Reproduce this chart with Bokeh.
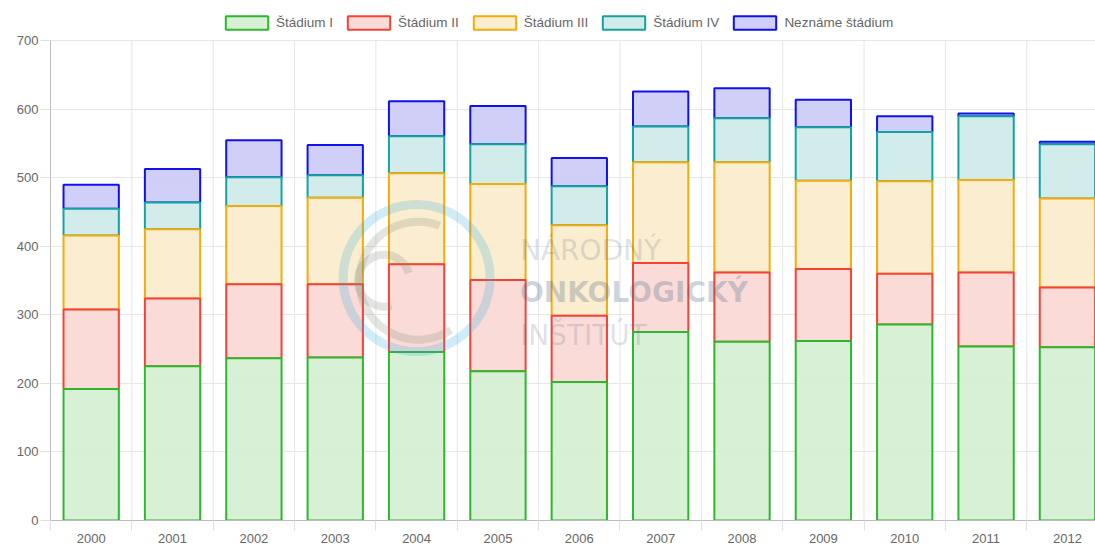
import numpy as np
from bokeh.plotting import figure
from bokeh.models import Range1d, FixedTicker, Legend, LegendItem, ColumnDataSource
from bokeh.core.properties import value
from bokeh.embed import file_html
from bokeh.resources import INLINE

# ---- data ----
years = ["2000", "2001", "2002", "2003", "2004", "2005", "2006",
         "2007", "2008", "2009", "2010", "2011", "2012"]
series_names = ["Štádium I", "Štádium II", "Štádium III", "Štádium IV", "Neznáme štádium"]
stadium_1 = [192, 225, 237, 238, 246, 218, 202, 275, 261, 262, 286, 254, 253]
stadium_2 = [116, 99, 108, 107, 128, 133, 97, 101, 101, 105, 74, 108, 87]
stadium_3 = [108, 101, 114, 126, 133, 140, 132, 147, 161, 129, 135, 135, 130]
stadium_4 = [39, 39, 42, 33, 54, 58, 57, 52, 64, 78, 72, 93, 79]
nezname = [35, 49, 54, 44, 51, 56, 41, 51, 44, 40, 23, 4, 4]
y_ticks = [0, 100, 200, 300, 400, 500, 600, 700]
Y_MAX = 700

# ---- styles ----
line_colors = ["#2eb82e", "#f44336", "#f3ab0e", "#14a3a0", "#1111ee"]
fill_colors = ["#d5efd3", "#fad8d4", "#fbebcb", "#cdeae9", "#cccbf7"]
FONT = "Liberation Sans"
TXT = "#666666"
GRID = "#e6e6e6"

x = np.arange(len(years))
values = np.array([stadium_1, stadium_2, stadium_3, stadium_4, nezname], dtype=float)
tops = np.cumsum(values, axis=0)
bottoms = tops - values

# frame spans the whole top; the space above 700 holds the legend
p = figure(width=1095, height=546, output_backend="svg", toolbar_location=None,
           x_range=Range1d(-0.5, 12.345), y_range=Range1d(0, 759),
           min_border_left=50, min_border_top=0, min_border_right=0, min_border_bottom=26)
p.outline_line_color = None
p.background_fill_color = "white"

boundaries = [i - 0.5 for i in range(len(years) + 1)]
# vertical grid lines (only up to the 700 line)
p.segment(x0=boundaries, y0=[0] * len(boundaries), x1=boundaries, y1=[Y_MAX] * len(boundaries),
          line_color=GRID, line_width=1, level="underlay")

renderers = [None] * 5
for i in reversed(range(5)):
    src = ColumnDataSource(dict(x=x, bottom=bottoms[i], top=tops[i]))
    renderers[i] = p.vbar(x="x", bottom="bottom", top="top", width=0.68, source=src,
                          fill_color=fill_colors[i], fill_alpha=0.92,
                          line_color=line_colors[i], line_width=2)

# ---- watermark ----
wm_color = "#4a6a8a"
p.annulus(x=[4.0], y=[354], inner_radius=69, outer_radius=78,
          inner_radius_units="screen", outer_radius_units="screen",
          fill_color="#29a9e0", fill_alpha=0.22, line_color=None)
p.annular_wedge(x=[4.02], y=[350], inner_radius=55, outer_radius=63,
                inner_radius_units="screen", outer_radius_units="screen",
                start_angle=1.2, end_angle=5.3, start_angle_units="rad",
                fill_color="#7a8a78", fill_alpha=0.22, line_color=None)
p.annular_wedge(x=[3.6], y=[350], inner_radius=22, outer_radius=30,
                inner_radius_units="screen", outer_radius_units="screen",
                start_angle=0.3, end_angle=5.0,
                fill_color="#7a8a78", fill_alpha=0.22, line_color=None)
p.text(x=[5.27], y=[394], text=["NÁRODNÝ"], text_font=value("DejaVu Sans"),
       text_font_size="28px", text_color=wm_color, text_alpha=0.2,
       text_baseline="alphabetic", text_align="left")
p.text(x=[5.27], y=[333], text=["ONKOLOGICKÝ"], text_font=value("DejaVu Sans"),
       text_font_size="28px", text_font_style="bold", text_color=wm_color, text_alpha=0.28,
       text_baseline="alphabetic", text_align="left")
p.text(x=[5.27], y=[270], text=["INŠTITÚT"], text_font=value("DejaVu Sans"),
       text_font_size="28px", text_color=wm_color, text_alpha=0.2,
       text_baseline="alphabetic", text_align="left")

# ---- axes ----
xa = p.xaxis[0]
xa.ticker = FixedTicker(ticks=list(x), minor_ticks=boundaries)
xa.major_label_overrides = {int(i): years[i] for i in x}
xa.major_tick_line_color = None
xa.major_tick_out = 0
xa.major_tick_in = 0
xa.minor_tick_out = 10
xa.minor_tick_in = 0
xa.minor_tick_line_color = "#e0e0e0"
xa.axis_line_color = "#bdbdbd"
xa.major_label_standoff = 3
xa.major_label_text_font = FONT
xa.major_label_text_font_size = "13px"
xa.major_label_text_color = TXT

ya = p.yaxis[0]
ya.ticker = FixedTicker(ticks=y_ticks)
ya.bounds = (0, Y_MAX)
ya.major_tick_out = 10
ya.major_tick_in = 0
ya.major_tick_line_color = "#e0e0e0"
ya.minor_tick_line_color = None
ya.axis_line_color = "#bdbdbd"
ya.major_label_standoff = 2
ya.major_label_text_font = FONT
ya.major_label_text_font_size = "13px"
ya.major_label_text_color = TXT

p.xgrid.visible = False
p.ygrid.ticker = FixedTicker(ticks=y_ticks)
p.ygrid.grid_line_color = GRID

# ---- legend ----
legend = Legend(items=[LegendItem(label=series_names[i], renderers=[renderers[i]]) for i in range(5)],
                orientation="horizontal", location=(170, 489),
                glyph_width=53, glyph_height=17, label_standoff=3, spacing=9,
                padding=0, margin=0, border_line_color=None, background_fill_alpha=0,
                label_text_font=FONT, label_text_font_size="13.5px", label_text_color=TXT,
                label_height=14)
p.add_layout(legend, "center")

open("out.html", "w").write(file_html(p, INLINE))
